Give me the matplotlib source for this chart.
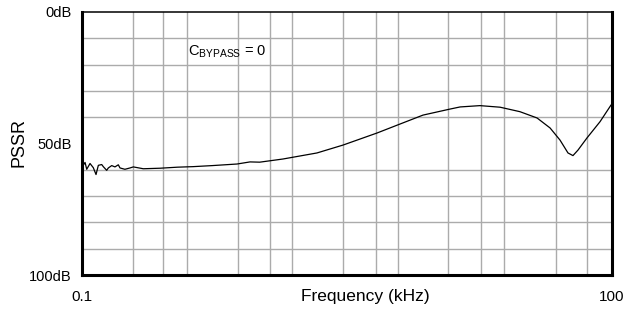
import matplotlib.pyplot as plt
import numpy as np
from matplotlib.ticker import NullFormatter

plt.rcParams['font.family'] = ['Liberation Sans', 'DejaVu Sans']

# PSSR curve (frequency in kHz, PSSR in dB)
freq_khz = [0.1024, 0.1047, 0.107, 0.1117, 0.1166, 0.1208, 0.1245, 0.1301, 0.1328,
            0.1388, 0.1418, 0.1482, 0.1546, 0.1615, 0.1651, 0.176, 0.1881, 0.1964,
            0.2237, 0.278, 0.35, 0.428, 0.55, 0.759, 0.899, 1.02, 1.38, 2.15, 3.02,
            4.71, 6.35, 8.57, 12.2, 13.9, 18.0, 23.4, 30.3, 37.9, 44.9, 51.1, 56.7,
            60.5, 64.6, 72.6, 86.1, 99.3]
pssr_db = [58.2, 57.2, 59.8, 57.6, 59.2, 61.8, 58.3, 58.0, 58.8,
           60.2, 59.3, 58.4, 58.9, 58.1, 59.3, 59.8, 59.3, 58.9,
           59.6, 59.4, 59.0, 58.8, 58.4, 57.8, 57.0, 57.1, 55.9, 53.6, 50.6,
           46.0, 42.6, 39.2, 36.9, 36.1, 35.6, 36.2, 37.9, 40.3, 44.1, 48.7, 53.6,
           54.6, 52.5, 47.9, 41.7, 35.4]

y_ticks = [0, 50, 100]
y_labels = ['0dB', '50dB', '100dB']
x_ticks = [0.1, 100]
x_labels = ['0.1', '100']

# vertical grid of the original sheet (not aligned to decades), as fraction of the log span
grid_frac = [0.0972, 0.1538, 0.1991, 0.2953, 0.3557, 0.3972, 0.4934, 0.5557,
             0.5972, 0.6915, 0.7538, 0.7972, 0.8953, 0.9538]

fig = plt.figure(figsize=(6.32, 3.1), dpi=100)
ax = fig.add_axes([0.129, 0.1129, 0.8386, 0.8484])

ax.plot(freq_khz, pssr_db, color='black', linewidth=0.9)

ax.set_xscale('log')
ax.set_xlim(0.1, 100)
ax.set_ylim(100, 0)

ax.set_xticks(x_ticks)
ax.set_xticklabels(x_labels, fontsize=11)
ax.set_xticks([0.1 * 1000 ** g for g in grid_frac], minor=True)
ax.xaxis.set_minor_formatter(NullFormatter())
ax.set_yticks(y_ticks)
ax.set_yticklabels(y_labels, fontsize=10.5)
ax.set_yticks(np.arange(10, 100, 10), minor=True)
ax.yaxis.set_minor_formatter(NullFormatter())

ax.tick_params(axis='x', which='both', length=0, pad=11)
ax.tick_params(axis='y', which='both', length=0, pad=7)
ax.grid(False, which='major')
ax.grid(True, which='minor', color='#ababab', linewidth=1.0)
ax.set_axisbelow(True)

for side in ['left', 'bottom', 'right']:
    ax.spines[side].set_linewidth(2.2)
ax.spines['top'].set_linewidth(1.1)

xl = ax.set_xlabel('Frequency (kHz)', fontsize=12.5)
ax.xaxis.set_label_coords(0.535, -0.08)
xl.set_verticalalignment('center')
yl = ax.set_ylabel('PSSR', fontsize=13)
ax.yaxis.set_label_coords(-0.118, 0.502)
yl.set_verticalalignment('center')

ax.text(0.401, 15.2, r'C$_{\mathregular{BYPASS}}$ = 0', fontsize=10.5,
        ha='left', va='center')

fig.savefig('out.png', dpi=100)
